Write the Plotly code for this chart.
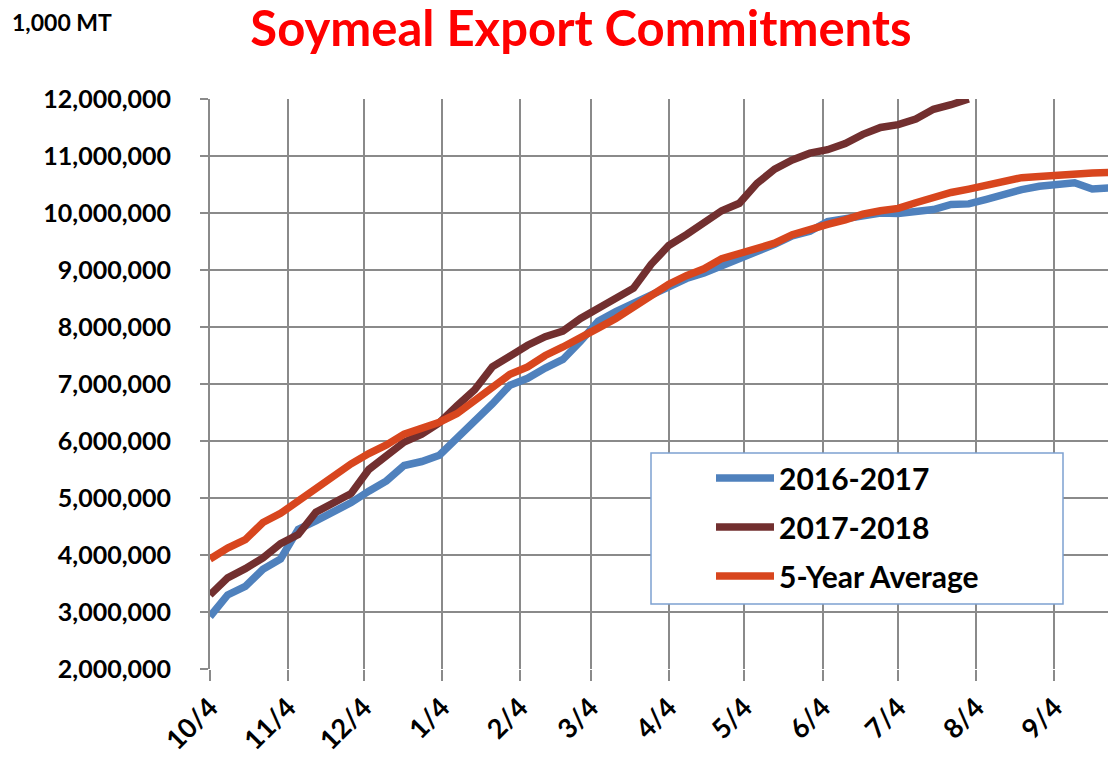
import plotly.graph_objects as go
import pandas as pd

# ---- data ----
week_start = "2017-10-04"
n_weeks = 52

series_2016_2017 = [
    2.92, 3.30, 3.45, 3.75, 3.93, 4.45, 4.60, 4.75, 4.92, 5.12,
    5.30, 5.57, 5.64, 5.75, 6.05, 6.33, 6.65, 6.98, 7.10, 7.28,
    7.43, 7.75, 8.10, 8.27, 8.42, 8.58, 8.72, 8.85, 8.95, 9.07,
    9.20, 9.32, 9.45, 9.60, 9.68, 9.85, 9.90, 9.95, 10.00, 9.99,
    10.04, 10.06, 10.15, 10.16, 10.24, 10.33, 10.41, 10.47, 10.51, 10.53,
    10.42, 10.44,
]
series_2017_2018 = [
    3.30, 3.60, 3.76, 3.95, 4.20, 4.36, 4.75, 4.92, 5.08, 5.50,
    5.73, 5.98, 6.12, 6.32, 6.62, 6.90, 7.30, 7.50, 7.68, 7.83,
    7.93, 8.15, 8.32, 8.50, 8.68, 9.10, 9.43, 9.62, 9.82, 10.04,
    10.17, 10.52, 10.77, 10.93, 11.05, 11.11, 11.22, 11.38, 11.50, 11.55,
    11.65, 11.82, 11.90, 12.00,
]
series_5yr_avg = [
    3.93, 4.12, 4.27, 4.57, 4.73, 4.95, 5.17, 5.38, 5.60, 5.78,
    5.93, 6.12, 6.22, 6.33, 6.48, 6.70, 6.92, 7.17, 7.30, 7.50,
    7.65, 7.83, 7.98, 8.15, 8.36, 8.57, 8.75, 8.90, 9.02, 9.20,
    9.30, 9.37, 9.47, 9.62, 9.72, 9.80, 9.88, 9.98, 10.04, 10.08,
    10.18, 10.28, 10.36, 10.42, 10.48, 10.57, 10.62, 10.64, 10.67, 10.69,
    10.70, 10.71,
]
series_names = ["2016-2017", "2017-2018", "5-Year Average"]
tick_dates = ["2017-10-04", "2017-11-04", "2017-12-04", "2018-01-04", "2018-02-04",
              "2018-03-04", "2018-04-04", "2018-05-04", "2018-06-04", "2018-07-04",
              "2018-08-04", "2018-09-04"]
tick_labels = ["10/4", "11/4", "12/4", "1/4", "2/4", "3/4", "4/4", "5/4", "6/4",
               "7/4", "8/4", "9/4"]
y_ticks = [2e6, 3e6, 4e6, 5e6, 6e6, 7e6, 8e6, 9e6, 10e6, 11e6, 12e6]

dates = pd.date_range(week_start, periods=n_weeks, freq="7D")
colors = ["#4f81bd", "#722f2f", "#d8461e"]
all_series = [series_2016_2017, series_2017_2018, series_5yr_avg]

W, H = 1108, 762
L, T, B = 210, 99, 93
PW, PH = W - L, H - T - B

FONT = "Lato"
fig = go.Figure()
for name, vals, col in zip(series_names, all_series, colors):
    fig.add_trace(go.Scatter(
        x=dates[:len(vals)], y=[v * 1e6 for v in vals], name=name, mode="lines",
        line=dict(color=col, width=7.5), legendgroup=name,
    ))

grid = "#8a8a8a"
fig.update_layout(
    width=W, height=H,
    margin=dict(l=L, r=0, t=T, b=B),
    paper_bgcolor="white", plot_bgcolor="white",
    font=dict(family=FONT, color="black"),
    title=dict(text="Soymeal Export Commitments", x=581 / W, xanchor="center",
               xref="container", yref="container", y=1 - 29 / H, yanchor="middle",
               font=dict(family=FONT, size=49, color="#ff0000", weight=700)),
    xaxis=dict(type="date", range=["2017-10-04", "2018-09-25 06:00"],
               tickvals=tick_dates, ticktext=tick_labels, tickangle=-45,
               showgrid=True, gridcolor=grid, gridwidth=2,
               ticks="outside", ticklen=11, tickwidth=2, tickcolor=grid,
               showline=False, zeroline=False,
               tickfont=dict(family=FONT, size=27, weight=700)),
    yaxis=dict(range=[2e6, 12e6], tickvals=y_ticks, tickformat=",d",
               showgrid=True, gridcolor=grid, gridwidth=2,
               ticks="outside", ticklen=8, tickwidth=2, tickcolor=grid,
               showline=True, linecolor=grid, linewidth=2, zeroline=False,
               ticklabelstandoff=24,
               tickfont=dict(family=FONT, size=25, weight=700)),
    legend=dict(x=(711 - L) / PW, xanchor="left", y=(H - B - 452) / PH, yanchor="top",
                bgcolor="rgba(0,0,0,0)", borderwidth=0, itemwidth=58,
                tracegroupgap=7,
                font=dict(family=FONT, size=30, weight=700)),
    showlegend=True,
)
# legend frame
fig.add_shape(type="rect", xref="paper", yref="paper",
              x0=(651 - L) / PW, x1=(1063 - L) / PW,
              y0=(H - B - 604) / PH, y1=(H - B - 453) / PH,
              line=dict(color="#7ea1d1", width=1.5), fillcolor="white", layer="above")
fig.add_annotation(text="1,000 MT", xref="paper", yref="paper",
                   x=(10 - L) / PW, y=(H - B - 22) / PH, showarrow=False,
                   xanchor="left", yanchor="middle",
                   font=dict(family=FONT, size=23, weight=700))
fig.write_html("out.html", config={"displayModeBar": False},
               post_script="document.body.style.margin='0';"
                           "document.body.style.overflow='hidden';")
